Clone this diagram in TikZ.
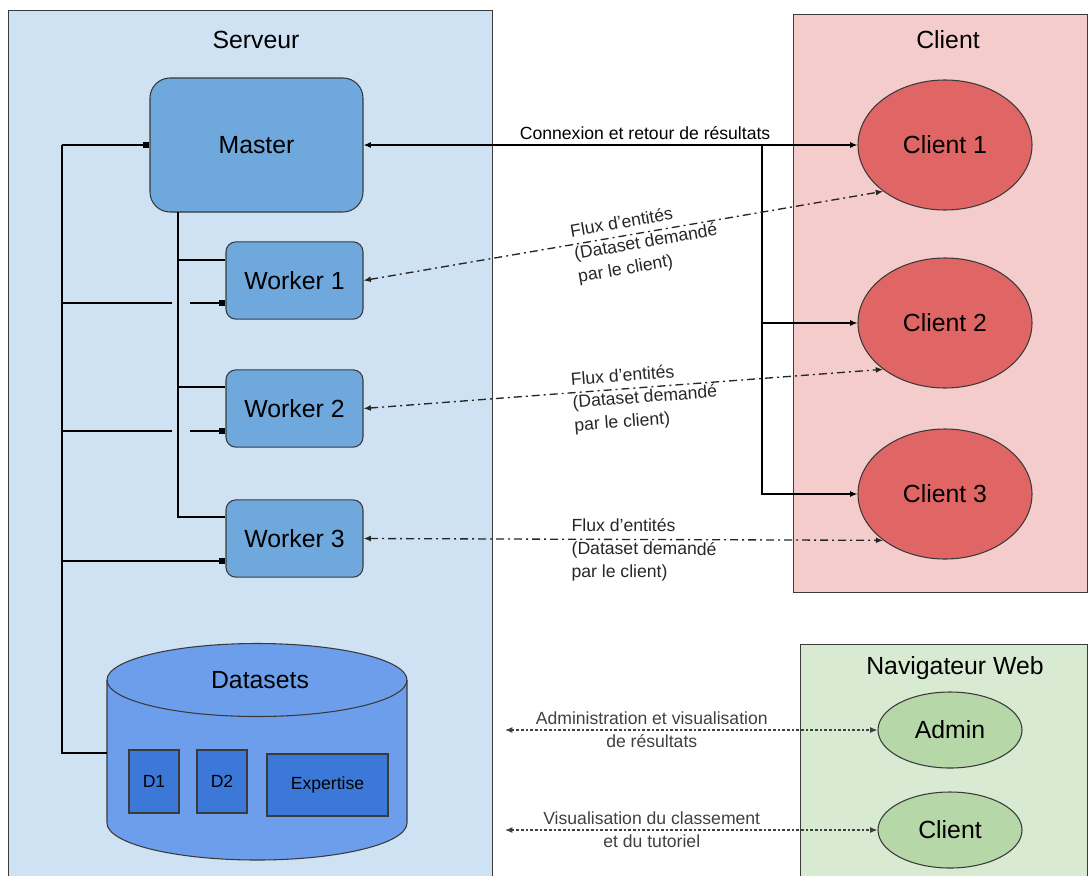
\documentclass[tikz,border=0pt]{standalone}
\usepackage{fontspec}
\setmainfont{Liberation Sans}
\usetikzlibrary{shapes, arrows.meta}

\definecolor{servbg}{HTML}{CFE2F3}
\definecolor{clibg}{HTML}{F4CCCC}
\definecolor{navbg}{HTML}{D9EAD3}
\definecolor{mastfill}{HTML}{6FA8DC}
\definecolor{dsfill}{HTML}{6D9EEB}
\definecolor{dfill}{HTML}{3C78D8}
\definecolor{clifill}{HTML}{E06666}
\definecolor{webfill}{HTML}{B6D7A8}
\definecolor{bord}{HTML}{3A3A3A}

\begin{document}
\begin{tikzpicture}[x=0.75pt, y=-0.75pt,
    big/.style={font=\fontsize{18.6}{22}\selectfont},
    small/.style={font=\fontsize{13.2}{17.25}\selectfont},
    master/.style={draw=bord, line width=0.8pt, fill=mastfill, rounded corners=15pt, minimum width=159.75pt, minimum height=100.5pt, inner sep=0pt, big},
    worker/.style={draw=bord, line width=0.8pt, fill=mastfill, rounded corners=7.5pt, minimum width=102.75pt, minimum height=58pt, inner sep=0pt, big},
    dbox/.style={draw=bord, line width=0.8pt, fill=dfill, minimum width=37.5pt, minimum height=47.25pt, inner sep=0pt, small},
    cli/.style={ellipse, draw=bord, line width=0.8pt, fill=clifill, minimum width=130.5pt, minimum height=97.5pt, inner sep=0pt, big},
    web/.style={ellipse, draw=bord, line width=0.8pt, fill=webfill, minimum width=108pt, minimum height=57pt, inner sep=0pt, big},
    wire/.style={line width=1pt, black},
    flux/.style={line width=1pt, black!85, dash pattern=on 6pt off 3pt on 1.5pt off 3pt},
    dots/.style={line width=0.9pt, black!75, dash pattern=on 2pt off 1.5pt},
    >={Latex[length=5.5pt, width=4.5pt]},
    sq/.tip={Square[length=4.5pt, width=4.5pt]}]

    \useasboundingbox (0,0) rectangle (1088,875);

    % zones
    \draw[fill=servbg, draw=bord] (8,10) rectangle (492,880);
    \draw[fill=clibg, draw=bord] (793,14) rectangle (1087,592);
    \draw[fill=navbg, draw=bord] (800,644) rectangle (1087,880);
    \node[big] (t_serv) at (256,40) {Serveur};
    \node[big] (t_cli) at (948,40) {Client};
    \node[big] (t_nav) at (955,668) {Navigateur Web};

    % serveur
    \node[master] (master) at (256.5,145) {Master};
    \node[worker] (w1) at (294.5,280.5) {Worker 1};
    \node[worker] (w2) at (294.5,408.5) {Worker 2};
    \node[worker] (w3) at (294.5,538.5) {Worker 3};

    \draw[fill=dsfill, draw=bord, line width=0.8pt] (107,680) -- (107,823) arc (180:0:150 and 37) -- (407,680) arc (0:-180:150 and 36.5) -- cycle;
    \draw[draw=bord, line width=0.8pt] (107,680) arc (180:0:150 and 36.5);
    \node[big] (ds) at (260,680) {Datasets};
    \node[dbox] (d1) at (154,781.5) {D1};
    \node[dbox] (d2) at (222,781.5) {D2};
    \node[dbox, minimum width=90.75pt, minimum height=46.5pt] (expertise) at (327.5,785) {Expertise};
    \coordinate (dsleft) at (107,753);

    % clients
    \node[cli] (c1) at (945,145) {Client 1};
    \node[cli] (c2) at (945,323) {Client 2};
    \node[cli] (c3) at (945,494) {Client 3};
    \node[web] (admin) at (950,730) {Admin};
    \node[web] (webcli) at (950,830) {Client};

    % bus on the left
    \coordinate (bus) at (62,145);
    \coordinate (ja1) at (172,303) ; \coordinate (jb1) at (190,303);
    \coordinate (ja2) at (172,431);   \coordinate (jb2) at (190,431);
    \coordinate (b3) at (62,561);
    \draw[wire, -sq] (bus) -- (master.west);
    \draw[wire] (bus) -- (bus |- dsleft) -- (dsleft);
    \draw[wire] (bus |- ja1) -- (ja1); \draw[wire, -sq] (jb1) -- (w1.west |- jb1);
    \draw[wire] (bus |- ja2) -- (ja2); \draw[wire, -sq] (jb2) -- (w2.west |- jb2);
    \draw[wire, -sq] (b3) -- (w3.west |- b3);

    % master to workers
    \coordinate (tree) at (178,212);
    \coordinate (t1) at (178,260); \coordinate (t2) at (178,387); \coordinate (t3) at (178,517);
    \draw[wire] (tree) -- (t3) -- (w3.west |- t3);
    \draw[wire] (t1) -- (w1.west |- t1);
    \draw[wire] (t2) -- (w2.west |- t2);

    % connexion
    \draw[wire, <->] (master.east) -- node[small, pos=0.57, above=0.5pt] (l_con) {Connexion et retour de résultats} (c1.west);
    \coordinate (split) at (762,145);
    \draw[wire, ->] (split) |- (c3.west);
    \draw[wire, ->] (split |- c2.west) -- (c2.west);

    % flux d'entites
    \draw[flux, <->] (w1.east) -- node[small, sloped, pos=0.54, align=left, yshift=-8pt] (l_f1) {Flux d’entités\\(Dataset demandé\\par le client)} (c1.south west);
    \draw[flux, <->] (w2.east) -- node[small, sloped, pos=0.54, align=left, yshift=-8pt] (l_f2) {Flux d’entités\\(Dataset demandé\\par le client)} (c2.south west);
    \draw[flux, <->] (w3.east) -- node[small, sloped, pos=0.54, align=left, yshift=-8pt] (l_f3) {Flux d’entités\\(Dataset demandé\\par le client)} (c3.south west);

    % navigateur
    \coordinate (adm) at (505,730);
    \coordinate (vis) at (505,830);
    \draw[dots, <->] (adm) -- node[small, pos=0.394, align=center] (l_adm) {Administration et visualisation\\de résultats} (admin.west);
    \draw[dots, <->] (vis) -- node[small, pos=0.394, align=center] (l_vis) {Visualisation du classement\\et du tutoriel} (webcli.west);

\end{tikzpicture}
\end{document}
